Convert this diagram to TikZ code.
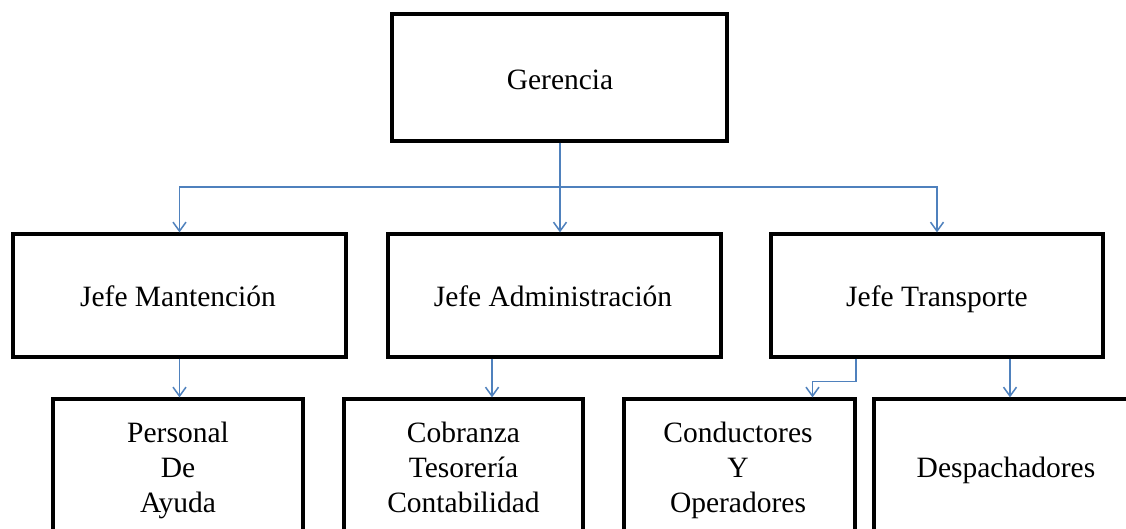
\documentclass[tikz,border=0pt]{standalone}
\usepackage{fontspec}
\setmainfont{Liberation Serif}
\usetikzlibrary{arrows.meta}
\definecolor{connblue}{RGB}{79,129,189}
\begin{document}
\begin{tikzpicture}[x=1pt,y=-1pt,
  box/.style={draw=black, line width=3.2pt, inner sep=0pt, rectangle},
  lbl/.style={font=\fontsize{29.5}{35}\selectfont, inner sep=0pt, align=center},
  wire/.style={draw=connblue, line width=1.5pt},
  link/.style={wire, -{Straight Barb[length=9pt,width=13pt]}}]
\clip (0,0) rectangle (1126,529);
\fill[white] (0,0) rectangle (1126,529);
% boxes
\node[box, minimum width=335pt, minimum height=127pt] (ger) at (559.5,77.5) {};
\node[box, minimum width=333pt, minimum height=123pt] (jm) at (179.5,295.5) {};
\node[box, minimum width=333pt, minimum height=123pt] (ja) at (554.5,295.5) {};
\node[box, minimum width=332pt, minimum height=123pt] (jt) at (937,295.5) {};
\node[box, minimum width=250pt, minimum height=146pt] (pda) at (178,472) {};
\node[box, minimum width=239pt, minimum height=146pt] (cob) at (463.5,472) {};
\node[box, minimum width=231pt, minimum height=146pt] (cond) at (739.5,472) {};
\node[box, minimum width=264pt, minimum height=146pt] (desp) at (1006,472) {};
% texts
\node[lbl, anchor=base] (tger) at (560,90) {Gerencia};
\node[lbl, anchor=base] (tjm) at (178,306.5) {Jefe Mantención};
\node[lbl, anchor=base] (tja) at (553,306) {Jefe Administración};
\node[lbl, anchor=base] (tjt) at (937,306) {Jefe Transporte};
\node[lbl, anchor=north] (tpda) at (178,422) {Personal\\De\\Ayuda};
\node[lbl, anchor=north] (tcob) at (463.5,422) {Cobranza\\Tesorería\\Contabilidad};
\node[lbl, anchor=north] (tcond) at (738,422) {Conductores\\Y\\Operadores};
\node[lbl, anchor=base] (tdesp) at (1006,477) {Despachadores};
% connectors
\coordinate (bus) at (560,187);
\draw[wire] (ger.south -| bus) -- (bus);
\draw[link] (bus) -| (jm.north);
\draw[link] (bus) -- (bus |- ja.north);
\draw[link] (bus) -| (jt.north);
\draw[link] (jm.south) -- (jm.south |- pda.north);
\draw[link] ([xshift=-62.5pt]ja.south) -- ([xshift=-62.5pt]ja.south |- cob.north);
\draw[link] ([xshift=-81pt]jt.south) -- ++(0,23) -| ([xshift=73pt]cond.north);
\draw[link] ([xshift=73pt]jt.south) -- ([xshift=73pt]jt.south |- desp.north);
\end{tikzpicture}
\end{document}
